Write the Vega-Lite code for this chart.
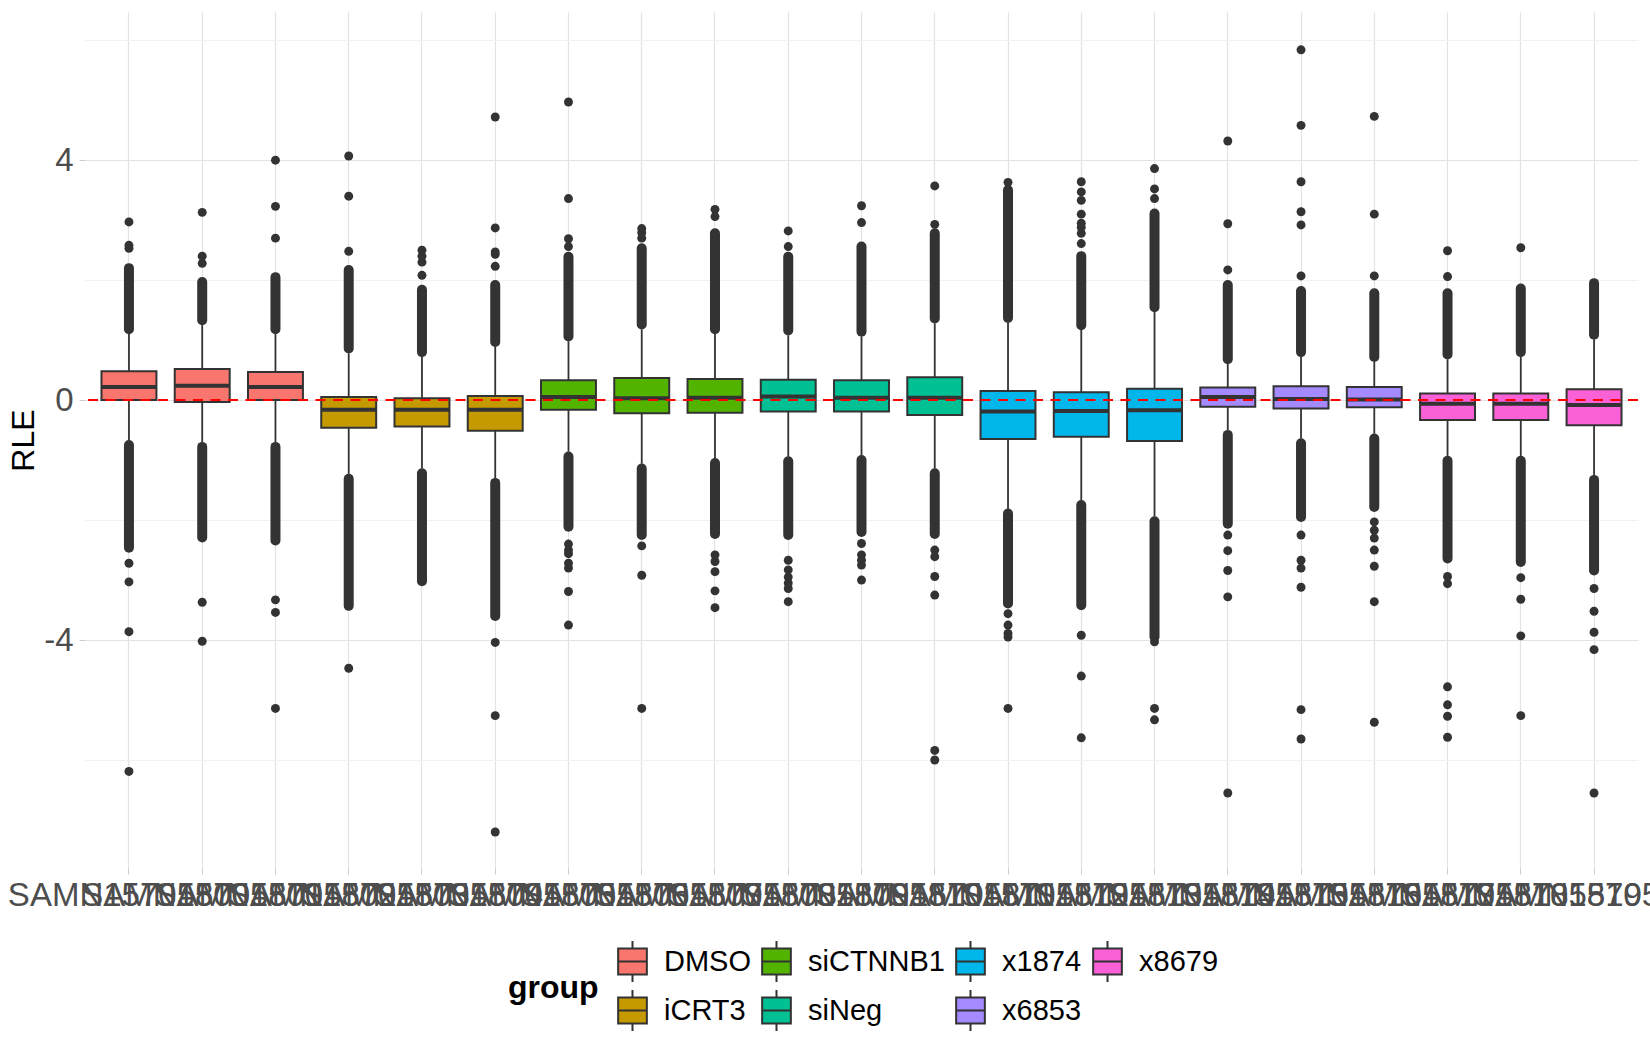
{
  "$schema": "https://vega.github.io/schema/vega-lite/v6.json",
  "width": 1553,
  "height": 856,
  "autosize": {"type": "none"},
  "padding": {"left": 85, "top": 12, "right": 12, "bottom": 182},
  "background": "white",
  "config": {
    "view": {"stroke": null},
    "font": "Liberation Sans",
    "axis": {
      "domain": false,
      "labelFont": "Liberation Sans",
      "labelFontSize": 33,
      "labelColor": "#4D4D4D",
      "tickColor": "#CCCCCC",
      "tickSize": 6,
      "gridColor": "#E3E3E3",
      "gridWidth": 1.2,
      "titleFont": "Liberation Sans",
      "titleFontSize": 32,
      "titleColor": "#000000",
      "titleFontWeight": "normal"
    },
    "legend": {
      "labelFont": "Liberation Sans",
      "titleFont": "Liberation Sans"
    }
  },
  "datasets": {
    "boxes": [
      {"sample": "SAMN15705800", "group": "DMSO", "lower": -0.67, "q1": 0.0, "median": 0.22, "q3": 0.48, "upper": 1.1},
      {"sample": "SAMN15705801", "group": "DMSO", "lower": -0.7, "q1": -0.03, "median": 0.24, "q3": 0.52, "upper": 1.25},
      {"sample": "SAMN15705802", "group": "DMSO", "lower": -0.7, "q1": 0.0, "median": 0.22, "q3": 0.47, "upper": 1.1},
      {"sample": "SAMN15705803", "group": "iCRT3", "lower": -1.23, "q1": -0.46, "median": -0.16, "q3": 0.05, "upper": 0.78},
      {"sample": "SAMN15705804", "group": "iCRT3", "lower": -1.14, "q1": -0.44, "median": -0.16, "q3": 0.03, "upper": 0.72},
      {"sample": "SAMN15705805", "group": "iCRT3", "lower": -1.3, "q1": -0.51, "median": -0.16, "q3": 0.07, "upper": 0.89},
      {"sample": "SAMN15705806", "group": "siCTNNB1", "lower": -0.86, "q1": -0.16, "median": 0.05, "q3": 0.33, "upper": 0.98},
      {"sample": "SAMN15705807", "group": "siCTNNB1", "lower": -1.06, "q1": -0.22, "median": 0.03, "q3": 0.37, "upper": 1.18},
      {"sample": "SAMN15705808", "group": "siCTNNB1", "lower": -0.97, "q1": -0.21, "median": 0.04, "q3": 0.35, "upper": 1.1},
      {"sample": "SAMN15705809", "group": "siNeg", "lower": -0.94, "q1": -0.19, "median": 0.06, "q3": 0.34, "upper": 1.08},
      {"sample": "SAMN15705810", "group": "siNeg", "lower": -0.92, "q1": -0.19, "median": 0.04, "q3": 0.33, "upper": 1.06},
      {"sample": "SAMN15705811", "group": "siNeg", "lower": -1.14, "q1": -0.25, "median": 0.04, "q3": 0.38, "upper": 1.28},
      {"sample": "SAMN15705812", "group": "x1874", "lower": -1.81, "q1": -0.65, "median": -0.19, "q3": 0.15, "upper": 1.29},
      {"sample": "SAMN15705813", "group": "x1874", "lower": -1.67, "q1": -0.61, "median": -0.18, "q3": 0.13, "upper": 1.17},
      {"sample": "SAMN15705814", "group": "x1874", "lower": -1.94, "q1": -0.68, "median": -0.17, "q3": 0.19, "upper": 1.47},
      {"sample": "SAMN15705815", "group": "x6853", "lower": -0.5, "q1": -0.11, "median": 0.05, "q3": 0.21, "upper": 0.6},
      {"sample": "SAMN15705816", "group": "x6853", "lower": -0.64, "q1": -0.14, "median": 0.02, "q3": 0.23, "upper": 0.72},
      {"sample": "SAMN15705817", "group": "x6853", "lower": -0.56, "q1": -0.12, "median": 0.01, "q3": 0.22, "upper": 0.64},
      {"sample": "SAMN15705818", "group": "x8679", "lower": -0.93, "q1": -0.33, "median": -0.06, "q3": 0.11, "upper": 0.68},
      {"sample": "SAMN15705819", "group": "x8679", "lower": -0.93, "q1": -0.33, "median": -0.06, "q3": 0.11, "upper": 0.72},
      {"sample": "SAMN15705820", "group": "x8679", "lower": -1.25, "q1": -0.42, "median": -0.08, "q3": 0.18, "upper": 1.01}
    ],
    "dense": [
      {"sample": "SAMN15705800", "from": 1.18, "to": 2.2}, {"sample": "SAMN15705800", "from": -0.75, "to": -2.46},
      {"sample": "SAMN15705801", "from": 1.33, "to": 1.97}, {"sample": "SAMN15705801", "from": -0.78, "to": -2.29},
      {"sample": "SAMN15705802", "from": 1.18, "to": 2.05}, {"sample": "SAMN15705802", "from": -0.78, "to": -2.34},
      {"sample": "SAMN15705803", "from": 0.86, "to": 2.17}, {"sample": "SAMN15705803", "from": -1.31, "to": -3.43},
      {"sample": "SAMN15705804", "from": 0.8, "to": 1.84}, {"sample": "SAMN15705804", "from": -1.22, "to": -3.02},
      {"sample": "SAMN15705805", "from": 0.97, "to": 1.92}, {"sample": "SAMN15705805", "from": -1.38, "to": -3.6},
      {"sample": "SAMN15705806", "from": 1.06, "to": 2.39}, {"sample": "SAMN15705806", "from": -0.94, "to": -2.11},
      {"sample": "SAMN15705807", "from": 1.26, "to": 2.53}, {"sample": "SAMN15705807", "from": -1.14, "to": -2.25},
      {"sample": "SAMN15705808", "from": 1.18, "to": 2.78}, {"sample": "SAMN15705808", "from": -1.05, "to": -2.23},
      {"sample": "SAMN15705809", "from": 1.16, "to": 2.39}, {"sample": "SAMN15705809", "from": -1.02, "to": -2.25},
      {"sample": "SAMN15705810", "from": 1.14, "to": 2.56}, {"sample": "SAMN15705810", "from": -1.0, "to": -2.2},
      {"sample": "SAMN15705811", "from": 1.36, "to": 2.78}, {"sample": "SAMN15705811", "from": -1.22, "to": -2.23},
      {"sample": "SAMN15705812", "from": 1.37, "to": 3.5}, {"sample": "SAMN15705812", "from": -1.89, "to": -3.39},
      {"sample": "SAMN15705813", "from": 1.25, "to": 2.4}, {"sample": "SAMN15705813", "from": -1.75, "to": -3.42},
      {"sample": "SAMN15705814", "from": 1.55, "to": 3.11}, {"sample": "SAMN15705814", "from": -2.02, "to": -3.95},
      {"sample": "SAMN15705815", "from": 0.68, "to": 1.92}, {"sample": "SAMN15705815", "from": -0.58, "to": -2.06},
      {"sample": "SAMN15705816", "from": 0.8, "to": 1.82}, {"sample": "SAMN15705816", "from": -0.72, "to": -1.95},
      {"sample": "SAMN15705817", "from": 0.72, "to": 1.78}, {"sample": "SAMN15705817", "from": -0.64, "to": -1.78},
      {"sample": "SAMN15705818", "from": 0.76, "to": 1.78}, {"sample": "SAMN15705818", "from": -1.01, "to": -2.64},
      {"sample": "SAMN15705819", "from": 0.8, "to": 1.86}, {"sample": "SAMN15705819", "from": -1.01, "to": -2.7},
      {"sample": "SAMN15705820", "from": 1.09, "to": 1.95}, {"sample": "SAMN15705820", "from": -1.33, "to": -2.84}
    ],
    "outliers": [
      {"sample": "SAMN15705800", "value": 2.53}, {"sample": "SAMN15705800", "value": 2.58}, {"sample": "SAMN15705800", "value": 2.97},
      {"sample": "SAMN15705800", "value": -2.72}, {"sample": "SAMN15705800", "value": -3.03}, {"sample": "SAMN15705800", "value": -3.86}, {"sample": "SAMN15705800", "value": -6.19},
      {"sample": "SAMN15705801", "value": 2.28}, {"sample": "SAMN15705801", "value": 2.4}, {"sample": "SAMN15705801", "value": 3.13},
      {"sample": "SAMN15705801", "value": -3.37}, {"sample": "SAMN15705801", "value": -4.02},
      {"sample": "SAMN15705802", "value": 2.7}, {"sample": "SAMN15705802", "value": 3.23}, {"sample": "SAMN15705802", "value": 4.0},
      {"sample": "SAMN15705802", "value": -3.33}, {"sample": "SAMN15705802", "value": -3.54}, {"sample": "SAMN15705802", "value": -5.14},
      {"sample": "SAMN15705803", "value": 2.48}, {"sample": "SAMN15705803", "value": 3.4}, {"sample": "SAMN15705803", "value": 4.07}, {"sample": "SAMN15705803", "value": -4.47},
      {"sample": "SAMN15705804", "value": 2.08}, {"sample": "SAMN15705804", "value": 2.3}, {"sample": "SAMN15705804", "value": 2.4}, {"sample": "SAMN15705804", "value": 2.5},
      {"sample": "SAMN15705805", "value": 2.23}, {"sample": "SAMN15705805", "value": 2.43}, {"sample": "SAMN15705805", "value": 2.47}, {"sample": "SAMN15705805", "value": 2.87}, {"sample": "SAMN15705805", "value": 4.72},
      {"sample": "SAMN15705805", "value": -4.04}, {"sample": "SAMN15705805", "value": -5.26}, {"sample": "SAMN15705805", "value": -7.2},
      {"sample": "SAMN15705806", "value": 2.56}, {"sample": "SAMN15705806", "value": 2.69}, {"sample": "SAMN15705806", "value": 3.36}, {"sample": "SAMN15705806", "value": 4.97},
      {"sample": "SAMN15705806", "value": -2.4}, {"sample": "SAMN15705806", "value": -2.5}, {"sample": "SAMN15705806", "value": -2.56}, {"sample": "SAMN15705806", "value": -2.72},
      {"sample": "SAMN15705806", "value": -2.8}, {"sample": "SAMN15705806", "value": -3.19}, {"sample": "SAMN15705806", "value": -3.75},
      {"sample": "SAMN15705807", "value": 2.7}, {"sample": "SAMN15705807", "value": 2.79}, {"sample": "SAMN15705807", "value": 2.86},
      {"sample": "SAMN15705807", "value": -2.43}, {"sample": "SAMN15705807", "value": -2.92}, {"sample": "SAMN15705807", "value": -5.14},
      {"sample": "SAMN15705808", "value": 3.06}, {"sample": "SAMN15705808", "value": 3.18}, {"sample": "SAMN15705808", "value": -2.58}, {"sample": "SAMN15705808", "value": -2.69},
      {"sample": "SAMN15705808", "value": -2.86}, {"sample": "SAMN15705808", "value": -3.18}, {"sample": "SAMN15705808", "value": -3.46},
      {"sample": "SAMN15705809", "value": 2.56}, {"sample": "SAMN15705809", "value": 2.82}, {"sample": "SAMN15705809", "value": -2.67}, {"sample": "SAMN15705809", "value": -2.83},
      {"sample": "SAMN15705809", "value": -2.95}, {"sample": "SAMN15705809", "value": -3.05}, {"sample": "SAMN15705809", "value": -3.14}, {"sample": "SAMN15705809", "value": -3.36},
      {"sample": "SAMN15705810", "value": 2.96}, {"sample": "SAMN15705810", "value": 3.24}, {"sample": "SAMN15705810", "value": -2.39}, {"sample": "SAMN15705810", "value": -2.58},
      {"sample": "SAMN15705810", "value": -2.67}, {"sample": "SAMN15705810", "value": -2.75}, {"sample": "SAMN15705810", "value": -3.0},
      {"sample": "SAMN15705811", "value": 2.93}, {"sample": "SAMN15705811", "value": 3.57}, {"sample": "SAMN15705811", "value": -2.5}, {"sample": "SAMN15705811", "value": -2.61},
      {"sample": "SAMN15705811", "value": -2.94}, {"sample": "SAMN15705811", "value": -3.25}, {"sample": "SAMN15705811", "value": -5.84}, {"sample": "SAMN15705811", "value": -6.0},
      {"sample": "SAMN15705812", "value": 3.63}, {"sample": "SAMN15705812", "value": -3.56}, {"sample": "SAMN15705812", "value": -3.75}, {"sample": "SAMN15705812", "value": -3.89},
      {"sample": "SAMN15705812", "value": -3.95}, {"sample": "SAMN15705812", "value": -5.14},
      {"sample": "SAMN15705813", "value": 2.61}, {"sample": "SAMN15705813", "value": 2.78}, {"sample": "SAMN15705813", "value": 2.88}, {"sample": "SAMN15705813", "value": 2.95},
      {"sample": "SAMN15705813", "value": 3.1}, {"sample": "SAMN15705813", "value": 3.33}, {"sample": "SAMN15705813", "value": 3.47}, {"sample": "SAMN15705813", "value": 3.64},
      {"sample": "SAMN15705813", "value": -3.92}, {"sample": "SAMN15705813", "value": -4.6}, {"sample": "SAMN15705813", "value": -5.63},
      {"sample": "SAMN15705814", "value": 3.36}, {"sample": "SAMN15705814", "value": 3.52}, {"sample": "SAMN15705814", "value": 3.86},
      {"sample": "SAMN15705814", "value": -4.03}, {"sample": "SAMN15705814", "value": -5.14}, {"sample": "SAMN15705814", "value": -5.33},
      {"sample": "SAMN15705815", "value": 2.17}, {"sample": "SAMN15705815", "value": 2.94}, {"sample": "SAMN15705815", "value": 4.32}, {"sample": "SAMN15705815", "value": -2.25},
      {"sample": "SAMN15705815", "value": -2.51}, {"sample": "SAMN15705815", "value": -2.84}, {"sample": "SAMN15705815", "value": -3.28}, {"sample": "SAMN15705815", "value": -6.55},
      {"sample": "SAMN15705816", "value": 2.07}, {"sample": "SAMN15705816", "value": 2.92}, {"sample": "SAMN15705816", "value": 3.14}, {"sample": "SAMN15705816", "value": 3.64},
      {"sample": "SAMN15705816", "value": 4.58}, {"sample": "SAMN15705816", "value": 5.84}, {"sample": "SAMN15705816", "value": -2.25}, {"sample": "SAMN15705816", "value": -2.67},
      {"sample": "SAMN15705816", "value": -2.8}, {"sample": "SAMN15705816", "value": -3.12}, {"sample": "SAMN15705816", "value": -5.16}, {"sample": "SAMN15705816", "value": -5.65},
      {"sample": "SAMN15705817", "value": 2.07}, {"sample": "SAMN15705817", "value": 3.1}, {"sample": "SAMN15705817", "value": 4.73}, {"sample": "SAMN15705817", "value": -2.03},
      {"sample": "SAMN15705817", "value": -2.17}, {"sample": "SAMN15705817", "value": -2.3}, {"sample": "SAMN15705817", "value": -2.5}, {"sample": "SAMN15705817", "value": -2.77},
      {"sample": "SAMN15705817", "value": -3.36}, {"sample": "SAMN15705817", "value": -5.37},
      {"sample": "SAMN15705818", "value": 2.06}, {"sample": "SAMN15705818", "value": 2.49}, {"sample": "SAMN15705818", "value": -2.94}, {"sample": "SAMN15705818", "value": -3.06},
      {"sample": "SAMN15705818", "value": -4.78}, {"sample": "SAMN15705818", "value": -5.08}, {"sample": "SAMN15705818", "value": -5.27}, {"sample": "SAMN15705818", "value": -5.62},
      {"sample": "SAMN15705819", "value": 2.54}, {"sample": "SAMN15705819", "value": -2.96}, {"sample": "SAMN15705819", "value": -3.32}, {"sample": "SAMN15705819", "value": -3.93},
      {"sample": "SAMN15705819", "value": -5.26},
      {"sample": "SAMN15705820", "value": -3.14}, {"sample": "SAMN15705820", "value": -3.52}, {"sample": "SAMN15705820", "value": -3.87}, {"sample": "SAMN15705820", "value": -4.16},
      {"sample": "SAMN15705820", "value": -6.55}
    ]
  },
  "layer": [
    {
      "data": {"name": "boxes"},
      "mark": {"type": "rule", "color": "#333333", "strokeWidth": 1.8},
      "encoding": {
        "x": {
          "field": "sample", "type": "nominal", "title": null,
          "scale": {
            "domain": ["SAMN15705800", "SAMN15705801", "SAMN15705802", "SAMN15705803", "SAMN15705804", "SAMN15705805", "SAMN15705806",
                       "SAMN15705807", "SAMN15705808", "SAMN15705809", "SAMN15705810", "SAMN15705811", "SAMN15705812", "SAMN15705813",
                       "SAMN15705814", "SAMN15705815", "SAMN15705816", "SAMN15705817", "SAMN15705818", "SAMN15705819", "SAMN15705820"],
            "paddingInner": 0.25, "paddingOuter": 0.225
          },
          "axis": {
            "labelAngle": 0, "labelOverlap": false, "labelLimit": 0, "labelBound": false, "labelFlush": false,
            "labelPadding": 5, "bandPosition": 0.5, "grid": true, "tickSize": 6
          }
        },
        "y": {
          "field": "lower", "type": "quantitative", "title": "RLE",
          "scale": {"domain": [-7.8, 6.47], "nice": false, "zero": false},
          "axis": {
            "values": [-6, -4, -2, 0, 2, 4, 6],
            "labelExpr": "datum.value % 4 === 0 ? '' + datum.value : ''",
            "gridColor": {"condition": {"test": "datum.value % 4 === 0", "value": "#E3E3E3"}, "value": "#F1F1F1"},
            "tickColor": {"condition": {"test": "datum.value % 4 === 0", "value": "#CCCCCC"}, "value": "transparent"},
            "labelPadding": 6,
            "titlePadding": 3
          }
        },
        "y2": {"field": "upper"}
      }
    },
    {
      "data": {"name": "dense"},
      "mark": {"type": "rule", "color": "#333333", "strokeWidth": 10, "strokeCap": "round"},
      "encoding": {
        "x": {"field": "sample", "type": "nominal"},
        "y": {"field": "from", "type": "quantitative", "title": "RLE"},
        "y2": {"field": "to"}
      }
    },
    {
      "data": {"name": "outliers"},
      "mark": {"type": "point", "filled": true, "color": "#333333", "opacity": 1, "size": 80, "strokeWidth": 0},
      "encoding": {
        "x": {"field": "sample", "type": "nominal"},
        "y": {"field": "value", "type": "quantitative", "title": "RLE"}
      }
    },
    {
      "data": {"name": "boxes"},
      "mark": {"type": "bar", "stroke": "#333333", "strokeWidth": 2, "opacity": 1},
      "encoding": {
        "x": {"field": "sample", "type": "nominal"},
        "y": {"field": "q1", "type": "quantitative", "title": "RLE"},
        "y2": {"field": "q3"},
        "fill": {
          "field": "group", "type": "nominal",
          "scale": {
            "domain": ["DMSO", "siCTNNB1", "x1874", "x8679", "iCRT3", "siNeg", "x6853"],
            "range": ["#F8766D", "#53B400", "#00B6EB", "#FB61D7", "#C49A00", "#00C094", "#A58AFF"]
          },
          "legend": {
            "title": "group",
            "orient": "none",
            "legendX": 423,
            "legendY": 928,
            "direction": "horizontal",
            "columns": 4,
            "titleOrient": "left",
            "titleAnchor": "middle",
            "titleBaseline": "middle",
            "titleFontSize": 32,
            "titleFontWeight": "bold",
            "titleColor": "#000000",
            "titlePadding": 12,
            "labelFontSize": 29,
            "labelColor": "#000000",
            "labelOffset": 10,
            "symbolType": "M-0.7,-0.63H0.7V0.63H-0.7Z M-0.7,0H0.7 M0,-0.63V-1 M0,0.63V1",
            "symbolSize": 1681,
            "symbolStrokeColor": "#333333",
            "symbolStrokeWidth": 2,
            "rowPadding": 0,
            "columnPadding": 4
          }
        }
      }
    },
    {
      "data": {"name": "boxes"},
      "mark": {"type": "tick", "color": "#333333", "thickness": 4, "size": 55, "orient": "horizontal", "opacity": 1},
      "encoding": {
        "x": {"field": "sample", "type": "nominal"},
        "y": {"field": "median", "type": "quantitative", "title": "RLE"}
      }
    },
    {
      "data": {"values": [{"ref": 0}]},
      "mark": {"type": "rule", "color": "#FF0000", "strokeDash": [10, 7.5], "strokeWidth": 2},
      "encoding": {
        "y": {"field": "ref", "type": "quantitative", "title": "RLE"}
      }
    }
  ]
}
